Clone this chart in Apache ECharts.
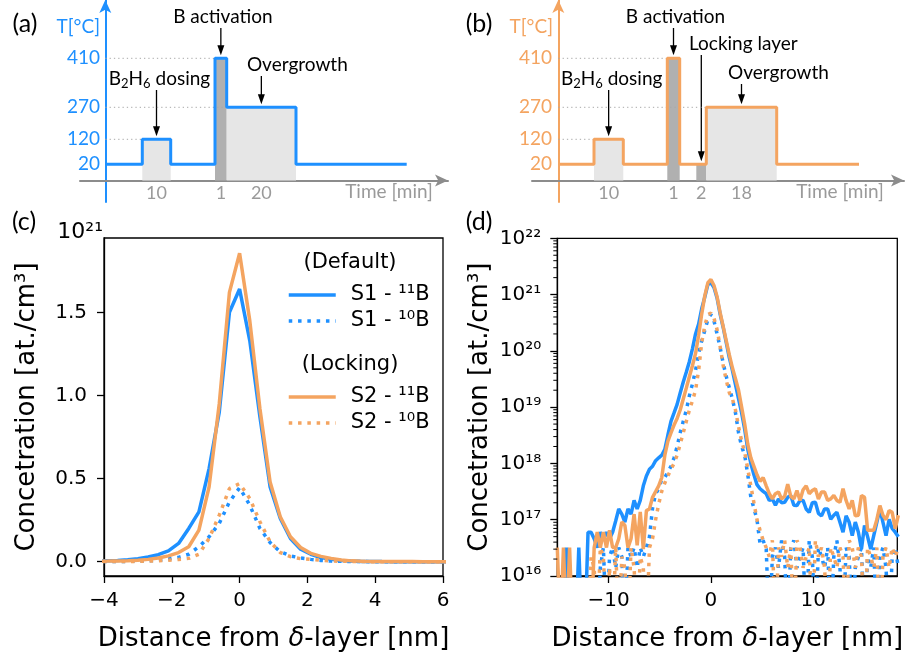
<!DOCTYPE html>
<html>
<head>
<meta charset="utf-8">
<script src="https://cdn.jsdelivr.net/npm/echarts@6/dist/echarts.min.js"></script>
<style>
html, body { margin: 0; padding: 0; background: #fff; }
#main { width: 908px; height: 657px; }
</style>
</head>
<body>
<div id="main"></div>
<script>
// ---------- (a)/(b): growth process schematics (not to scale) ----------
const tempTicks = [20, 120, 270, 410];
// schematic height of each temperature step on the T axis
const tempLevel = [16.2, 41.2, 73.2, 122.2];

// (a) default process: phases on a schematic time axis
const phaseStartA = [37.0, 109.7, 121.4];
const phaseEndA = [65.4, 121.4, 190.7];
const phaseTempA = [120, 410, 270];
const phaseMinA = ['10', '1', '20'];
const phaseKindA = ['dosing', 'activation', 'overgrowth'];
const runEndA = 301.4;

// (b) process with locking layer
const phaseStartB = [35.7, 109.0, 138.0, 148.0];
const phaseEndB = [65.0, 121.4, 148.0, 218.4];
const phaseTempB = [120, 410, 20, 270];
const phaseMinB = ['10', '1', '2', '18'];
const phaseKindB = ['dosing', 'activation', 'locking', 'overgrowth'];
const runEndB = 300.7;

// ---------- (c)/(d): SIMS depth profiles ----------
const distance = [
  -15.0,-14.7,-14.4,-14.1,-13.8,-13.5,-13.2,-12.9,-12.6,-12.3,
  -12.0,-11.7,-11.4,-11.1,-10.8,-10.5,-10.2,-9.9,-9.6,-9.3,
  -9.0,-8.7,-8.4,-8.1,-7.8,-7.5,-7.2,-6.9,-6.6,-6.3,
  -6.0,-5.7,-5.4,-5.1,-4.8,-4.5,-4.2,-3.9,-3.6,-3.3,
  -3.0,-2.7,-2.4,-2.1,-1.8,-1.5,-1.2,-0.9,-0.6,-0.3,
  0.0,0.3,0.6,0.9,1.2,1.5,1.8,2.1,2.4,2.7,
  3.0,3.3,3.6,3.9,4.2,4.5,4.8,5.1,5.4,5.7,
  6.0,6.3,6.6,6.9,7.2,7.5,7.8,8.1,8.4,8.7,
  9.0,9.3,9.6,9.9,10.2,10.5,10.8,11.1,11.4,11.7,
  12.0,12.3,12.6,12.9,13.2,13.5,13.8,14.1,14.4,14.7,
  15.0,15.3,15.6,15.9,16.2,16.5,16.8,17.1,17.4,17.7,
  18.0,18.3
];
// at./cm3, 0 = below detection
const s1B11 = [
  0,0,0,3.2e16,0,0,0,3.2e16,0,0,
  6e16,6e16,4.6e16,3.2e16,6e16,4.6e16,6e16,4.6e16,6e16,9.5e16,
  1.55e17,1.26e17,9.1e16,1.55e17,1.26e17,2.2e17,1.55e17,2.2e17,4e17,6e17,
  7.9e17,8.9e17,1.12e18,1.26e18,1.4e18,1.78e18,3.2e18,5.6e18,7.9e18,1.12e19,
  1.78e19,2.8e19,4.2e19,6.5e19,1.1e20,2.0e20,3.0e20,5.6e20,9.0e20,1.5e21,
  1.64e21,1.33e21,8.7e20,4.5e20,2.6e20,1.4e20,7.5e19,4.5e19,2.5e19,1.4e19,
  7.9e18,4e18,1.78e18,1e18,6.3e17,4.2e17,3.55e17,3.2e17,2.9e17,2.2e17,
  2.34e17,1.8e17,2.34e17,2.0e17,2.04e17,2.5e17,2.7e17,1.8e17,1.78e17,2.2e17,
  2.2e17,1.55e17,1.35e17,2.0e17,2.04e17,1.3e17,1.17e17,1.55e17,1.55e17,1.02e17,
  1.2e17,1.35e17,9e16,6e16,1.17e17,9e16,5.2e16,9.1e16,6e16,3.0e16,
  7.9e16,5e16,3.0e16,5.2e16,9e16,1.55e17,9e16,5.2e16,1.02e17,7e16,
  6e16,5e16
];
const s1B10 = [
  0,0,0,0,0,0,0,0,0,0,
  0,0,0,0,1.4e16,3.2e16,0,2.2e16,3.2e16,1.4e16,
  3.2e16,2.2e16,0,3.2e16,2.2e16,3.2e16,1.4e16,3.2e16,2.2e16,3.2e16,
  5e16,1.6e17,2.9e17,3.55e17,5.2e17,5.6e17,7.1e17,8.9e17,1.26e18,2e18,
  3.5e18,5.6e18,8.9e18,1.6e19,2.6e19,4.5e19,9e19,1.5e20,2.3e20,3.6e20,
  4.45e20,3.4e20,2.0e20,1.15e20,6e19,3.5e19,2.2e19,1.4e19,7.9e18,3.5e18,
  2e18,1.4e18,6.3e17,2.5e17,1.6e17,1.0e17,3.7e16,4.3e16,3e16,0,
  2.2e16,3.2e16,1.4e16,4.3e16,2.2e16,0,3.2e16,4.3e16,1.4e16,2.2e16,
  3.2e16,0,4.3e16,2.2e16,0,3.2e16,2.2e16,1.4e16,3.2e16,0,
  2.2e16,4.3e16,1.4e16,0,3.2e16,2.2e16,0,1.4e16,2.2e16,3.2e16,
  0,2.2e16,1.4e16,3.2e16,0,2.2e16,3.2e16,1.4e16,0,2.2e16,
  3.2e16,1.4e16
];
const s2B11 = [
  3.2e16,0,3.2e16,0,3.2e16,0,0,0,0,0,
  0,0,3.2e16,6e16,3.2e16,6e16,3.2e16,6.5e16,3.2e16,3.2e16,
  4.6e16,9.1e16,7.9e16,3.2e16,4.6e16,1.26e17,3.5e16,1.38e17,3.0e16,1.45e17,
  1.55e17,2.5e17,3.16e17,4.0e17,5.6e17,1.4e18,2.5e18,3.5e18,4.8e18,6.3e18,
  8.9e18,1.4e19,2.2e19,3.5e19,5.5e19,9e19,1.9e20,4.5e20,9.5e20,1.62e21,
  1.855e21,1.45e21,9.2e20,4.8e20,2.7e20,1.5e20,8.5e19,5.0e19,3.2e19,2.0e19,
  1.0e19,5e18,2.2e18,1.26e18,8.9e17,6.3e17,4.8e17,5.6e17,4e17,2.9e17,
  2.34e17,2.9e17,3.1e17,2.34e17,2.6e17,4.3e17,2.6e17,2.34e17,3.3e17,2.2e17,
  3.4e17,4e17,2.9e17,3.3e17,3.55e17,2.34e17,3.1e17,3.1e17,2.2e17,2.34e17,
  2.7e17,2.2e17,2.04e17,3.55e17,2.2e17,1.55e17,2.2e17,1.17e17,1.2e17,2.7e17,
  2.5e17,6.5e16,6.5e16,6.5e16,1.0e17,1.78e17,1.2e17,1.0e17,1.45e17,1.35e17,
  6.9e16,1.2e17
];
const s2B10 = [
  0,0,0,0,0,0,0,0,0,0,
  0,2.2e16,1.4e16,0,3.2e16,2.2e16,0,1.4e16,0,3.2e16,
  0,2.2e16,1.4e16,0,3.2e16,1.4e16,0,2.2e16,1.4e16,0,
  3.2e16,4.6e16,1.0e17,1.9e17,3.2e17,4.5e17,6e17,7.9e17,1.0e18,1.4e18,
  2.2e18,3.5e18,5.6e18,8.9e18,1.3e19,2.0e19,4.5e19,1.4e20,2.8e20,4.4e20,
  4.7e20,3.8e20,2.4e20,1.2e20,5.5e19,3.0e19,1.8e19,1.4e19,8.9e18,4.5e18,
  2.5e18,1.58e18,7.9e17,4e17,2e17,1e17,6.5e16,4.3e16,3.2e16,2.2e16,
  4.3e16,0,3.2e16,2.2e16,4.3e16,1.4e16,3.2e16,0,4.3e16,3.2e16,
  1.4e16,2.2e16,3.2e16,0,4.3e16,2.2e16,3.2e16,1.4e16,0,3.2e16,
  2.2e16,1.4e16,3.2e16,2.2e16,0,4.3e16,3.2e16,1.4e16,3.2e16,2.2e16,
  0,3.2e16,2.2e16,1.4e16,3.2e16,0,2.2e16,3.2e16,1.4e16,3.2e16,
  2.2e16,3.2e16
];
const seriesNames = ['S1 - \u00b9\u00b9B', 'S1 - \u00b9\u2070B', 'S2 - \u00b9\u00b9B', 'S2 - \u00b9\u2070B'];
const seriesValues = [s1B11, s1B10, s2B11, s2B10];

// ---------- styling ----------
const BLUE = '#1e90ff', ORANGE = '#f4a460';
const seriesColor = [BLUE, BLUE, ORANGE, ORANGE];
const seriesDotted = [false, true, false, true];
const AXIS_GRAY = '#8c8c8c', LABEL_GRAY = '#9a9a9a', GUIDE_GRAY = '#a8a8a8';
const SHADE = { dosing: '#e6e6e6', overgrowth: '#e6e6e6', activation: '#b0b0b0', locking: '#b0b0b0' };
const FONT = 'DejaVu Sans';
const SUP = '\u2070\u00b9\u00b2\u00b3\u2074\u2075\u2076\u2077\u2078\u2079';
const sup = n => String(n).split('').map(d => SUP[+d]).join('');
const minus = v => (v < 0 ? '\u2212' + (-v) : String(v));

function levelOf(t) { return tempLevel[tempTicks.indexOf(t)]; }

function buildProfile(start, end, temp, runEnd) {
  const base = levelOf(tempTicks[0]);
  const pts = [[0, base]];
  for (let i = 0; i < start.length; i++) {
    if (i === 0 || end[i - 1] !== start[i]) pts.push([start[i], base]);
    pts.push([start[i], levelOf(temp[i])], [end[i], levelOf(temp[i])]);
    if (i === start.length - 1 || start[i + 1] !== end[i]) pts.push([end[i], base]);
  }
  pts.push([runEnd, base]);
  return pts;
}

function schematic(k, color, start, end, temp, minutes, kind, runEnd, grid, xMin, xMax) {
  const mids = start.map((s, i) => (s + end[i]) / 2);
  // axis lines sit on the zero of the other axis; labels are pulled in to follow them
  const xAxis = {
    type: 'value', gridIndex: k, min: xMin, max: xMax,
    axisLine: { onZero: true, symbol: ['none', 'arrow'], symbolSize: [9, 13], lineStyle: { color: AXIS_GRAY, width: 2 } },
    axisTick: { show: false }, splitLine: { show: false },
    axisLabel: { customValues: mids, formatter: v => minutes[mids.indexOf(v)], color: LABEL_GRAY, fontFamily: 'Lato', fontSize: 18, margin: -18 }
  };
  const yAxis = {
    type: 'value', gridIndex: k, min: -21.5, max: 180.5,
    axisLine: { show: true, onZero: true, symbol: ['none', 'arrow'], symbolSize: [9, 13], lineStyle: { color: color, width: 2 } },
    axisTick: { show: false }, splitLine: { show: false },
    axisLabel: { customValues: tempLevel, formatter: v => String(tempTicks[tempLevel.indexOf(v)]), color: color, fontFamily: 'Lato', fontSize: 19, margin: -20 }
  };
  const series = [];
  // shading of the process phases
  series.push({
    type: 'line', xAxisIndex: k, yAxisIndex: k, data: [], z: 1, silent: true,
    markArea: {
      silent: true,
      data: start.map((s, i) => [
        { coord: [s, 0], itemStyle: { color: SHADE[kind[i]] } },
        { coord: [end[i], levelOf(temp[i])] }
      ])
    }
  });
  // dotted guides from the T axis to each step
  tempTicks.slice(1).forEach(t => {
    const i = temp.indexOf(t);
    series.push({
      type: 'line', xAxisIndex: k, yAxisIndex: k, silent: true, symbol: 'none', z: 1,
      data: [[0, levelOf(t)], [start[i], levelOf(t)]],
      lineStyle: { color: GUIDE_GRAY, width: 1, type: [1.3, 3] }
    });
  });
  series.push({
    type: 'line', xAxisIndex: k, yAxisIndex: k, silent: true, symbol: 'none', z: 3,
    data: buildProfile(start, end, temp, runEnd),
    lineStyle: { color: color, width: 3 }
  });
  return { grid, xAxis, yAxis, series };
}

const panA = schematic(0, BLUE, phaseStartA, phaseEndA, phaseTempA, phaseMinA, phaseKindA, runEndA,
  { left: 80, top: 0, width: 368, height: 202 }, -25.3, 342.7);
const panB = schematic(1, ORANGE, phaseStartB, phaseEndB, phaseTempB, phaseMinB, phaseKindB, runEndB,
  { left: 532, top: 0, width: 372, height: 202 }, -26.3, 345.7);

const boxGrid = { show: true, borderColor: '#000', borderWidth: 1.3, backgroundColor: 'transparent' };
const tickLabel = { color: '#000', fontFamily: FONT, fontSize: 20 };
const distName = {
  name: '{n|Distance from }{i|\u03b4}{n|-layer [nm]}', nameLocation: 'middle', nameGap: 50,
  nameTextStyle: { rich: { n: { fontFamily: FONT, fontSize: 26, color: '#000' }, i: { fontFamily: FONT, fontSize: 26, fontStyle: 'italic', color: '#000' } } }
};
const concName = {
  name: 'Concetration [at./cm\u00b3]', nameLocation: 'middle', nameRotate: 90, nameGap: 64,
  nameTextStyle: { fontFamily: FONT, fontSize: 26, color: '#000' }
};
const blackLine = { show: true, onZero: false, lineStyle: { color: '#000', width: 1.3 } };

const linCTicks = [0, 0.5, 1.0, 1.5];
const xC = Object.assign({
  type: 'value', gridIndex: 2, min: -4, max: 6, interval: 2,
  axisLine: blackLine, axisTick: { show: true, length: 7, lineStyle: { color: '#000', width: 1.3 } },
  splitLine: { show: false }, axisLabel: Object.assign({ margin: 15, formatter: minus }, tickLabel)
}, distName);
const yC = Object.assign({
  type: 'value', gridIndex: 2, min: -0.086, max: 1.947,
  axisLine: blackLine, axisTick: { show: true, length: 7, customValues: linCTicks, lineStyle: { color: '#000', width: 1.3 } },
  splitLine: { show: false }, axisLabel: Object.assign({ margin: 17, customValues: linCTicks, formatter: v => v.toFixed(1) }, tickLabel)
}, concName);
const xD = Object.assign({
  type: 'value', gridIndex: 3, min: -15, max: 18.2,
  axisLine: blackLine, axisTick: { show: true, length: 7, customValues: [-10, 0, 10], lineStyle: { color: '#000', width: 1.3 } },
  splitLine: { show: false }, axisLabel: Object.assign({ margin: 15, customValues: [-10, 0, 10], formatter: minus }, tickLabel)
}, distName);
const yD = Object.assign({
  type: 'log', logBase: 10, gridIndex: 3, min: 1e16, max: 1e22,
  axisLine: blackLine, axisTick: { show: true, length: 7, lineStyle: { color: '#000', width: 1.3 } },
  splitLine: { show: false }, minorTick: { show: false },
  axisLabel: Object.assign({ margin: 16, formatter: v => '10' + sup(Math.round(Math.log10(v))) }, tickLabel)
}, concName);

const profileSeries = [];
seriesValues.forEach((vals, s) => {
  const lineStyle = { color: seriesColor[s], width: 3.5, type: seriesDotted[s] ? [3.5, 5.8] : 'solid', cap: 'butt' };
  profileSeries.push({
    name: seriesNames[s], type: 'line', xAxisIndex: 2, yAxisIndex: 2, symbol: 'none', silent: true,
    color: seriesColor[s], lineStyle, z: 3 + s,
    data: distance.map((x, i) => [x, vals[i] / 1e21])
  });
  profileSeries.push({
    name: seriesNames[s], type: 'line', xAxisIndex: 3, yAxisIndex: 3, symbol: 'none', silent: true,
    color: seriesColor[s], lineStyle, z: 3 + s,
    data: distance.map((x, i) => [x, vals[i] > 0 ? vals[i] : 1e15])
  });
});

// minor log ticks for (d)
const minorVals = [];
for (let e = 16; e < 22; e++) for (let m = 2; m <= 9; m++) minorVals.push(m * Math.pow(10, e));
profileSeries.push({
  type: 'custom', xAxisIndex: 3, yAxisIndex: 3, silent: true, clip: false, z: 10,
  data: minorVals.map(v => [-15, v]),
  renderItem: (params, api) => {
    const p = api.coord([api.value(0), api.value(1)]);
    return { type: 'line', shape: { x1: p[0] - 4, y1: p[1], x2: p[0], y2: p[1] }, style: { stroke: '#000', lineWidth: 1 } };
  }
});

const legendBase = {
  orient: 'vertical', left: 282, itemWidth: 47, itemHeight: 14, itemGap: 4, selectedMode: false,
  itemStyle: { opacity: 0 }, lineStyle: { width: 3.5 },
  textStyle: { fontFamily: FONT, fontSize: 21, color: '#000', padding: [0, 0, 0, 10], lineHeight: 22 }
};

const option = {
  animation: false,
  backgroundColor: '#fff',
  textStyle: { fontFamily: FONT },
  grid: [panA.grid, panB.grid,
    Object.assign({ left: 104, top: 238, width: 339, height: 339 }, boxGrid),
    Object.assign({ left: 557.3, top: 238.3, width: 340, height: 339 }, boxGrid)],
  xAxis: [panA.xAxis, panB.xAxis, xC, xD],
  yAxis: [panA.yAxis, panB.yAxis, yC, yD],
  legend: [
    Object.assign({ top: 279, data: seriesNames.slice(0, 2) }, legendBase),
    Object.assign({ top: 381, data: seriesNames.slice(2, 4) }, legendBase)
  ],
  series: panA.series.concat(panB.series, profileSeries)
};

const chart = echarts.init(document.getElementById('main'), null, { renderer: 'canvas' });
chart.setOption(option);

// ---------- annotations (arrows point at the phase plateaus) ----------
const lato = (size, color) => ({ fontFamily: 'Lato', fontSize: size, fill: color });
const annotText = label => {
  if (label === 'dosing') return { text: '{t|B}{s|2}{t|H}{s|6}{t| dosing}', rich: { t: { fontFamily: 'Lato', fontSize: 19, lineHeight: 22 }, s: { fontFamily: 'Lato', fontSize: 13, lineHeight: 13, verticalAlign: 'bottom' } } };
  return { text: label };
};
const annotations = [
  { k: 0, start: phaseStartA, end: phaseEndA, temp: phaseTempA, phase: 0, label: 'dosing', tail: 90, dx: 3 },
  { k: 0, start: phaseStartA, end: phaseEndA, temp: phaseTempA, phase: 1, label: 'B activation', tail: 28, dx: 2 },
  { k: 0, start: phaseStartA, end: phaseEndA, temp: phaseTempA, phase: 2, label: 'Overgrowth', tail: 76, dx: 36 },
  { k: 1, start: phaseStartB, end: phaseEndB, temp: phaseTempB, phase: 0, label: 'dosing', tail: 90, dx: 3 },
  { k: 1, start: phaseStartB, end: phaseEndB, temp: phaseTempB, phase: 1, label: 'B activation', tail: 28, dx: 2 },
  { k: 1, start: phaseStartB, end: phaseEndB, temp: phaseTempB, phase: 2, label: 'Locking layer', tail: 55, dx: 42 },
  { k: 1, start: phaseStartB, end: phaseEndB, temp: phaseTempB, phase: 3, label: 'Overgrowth', tail: 84, dx: 37 }
];
const graphic = [];
annotations.forEach(a => {
  const mid = (a.start[a.phase] + a.end[a.phase]) / 2;
  const p = chart.convertToPixel({ xAxisIndex: a.k, yAxisIndex: a.k }, [mid, levelOf(a.temp[a.phase])]);
  const tip = p[1] - 3;
  graphic.push({ type: 'line', silent: true, shape: { x1: p[0], y1: a.tail, x2: p[0], y2: tip - 8 }, style: { stroke: '#000', lineWidth: 1.3 } });
  graphic.push({ type: 'polygon', silent: true, shape: { points: [[p[0] - 3.5, tip - 10], [p[0] + 3.5, tip - 10], [p[0], tip]] }, style: { fill: '#000' } });
  graphic.push({ type: 'text', silent: true, x: p[0] + a.dx, y: a.tail - 11,
    style: Object.assign({ align: 'center', verticalAlign: 'middle' }, lato(19, '#000'), annotText(a.label)) });
});
// axis captions and panel labels
graphic.push({ type: 'text', x: 100, y: 27, style: Object.assign({ text: 'T[\u00b0C]', align: 'right', verticalAlign: 'middle' }, lato(19, BLUE)) });
graphic.push({ type: 'text', x: 553, y: 27, style: Object.assign({ text: 'T[\u00b0C]', align: 'right', verticalAlign: 'middle' }, lato(19, ORANGE)) });
graphic.push({ type: 'text', x: 389, y: 192, style: Object.assign({ text: 'Time [min]', align: 'center', verticalAlign: 'middle' }, lato(19, LABEL_GRAY)) });
graphic.push({ type: 'text', x: 840, y: 192, style: Object.assign({ text: 'Time [min]', align: 'center', verticalAlign: 'middle' }, lato(19, LABEL_GRAY)) });
[['(a)', 25, 24], ['(b)', 479, 24], ['(c)', 24, 222], ['(d)', 479, 222]].forEach(l => {
  graphic.push({ type: 'text', x: l[1], y: l[2], style: Object.assign({ text: l[0], align: 'center', verticalAlign: 'middle' }, lato(25, '#000')) });
});
graphic.push({ type: 'text', x: 103, y: 232, style: { text: '10\u00b2\u00b9', align: 'right', verticalAlign: 'middle', fontFamily: FONT, fontSize: 22, fill: '#000' } });
graphic.push({ type: 'text', x: 350, y: 263, style: { text: '(Default)', align: 'center', verticalAlign: 'middle', fontFamily: FONT, fontSize: 21, fill: '#000' } });
graphic.push({ type: 'text', x: 350, y: 365, style: { text: '(Locking)', align: 'center', verticalAlign: 'middle', fontFamily: FONT, fontSize: 21, fill: '#000' } });

chart.setOption({ graphic: graphic });
</script>
</body>
</html>
